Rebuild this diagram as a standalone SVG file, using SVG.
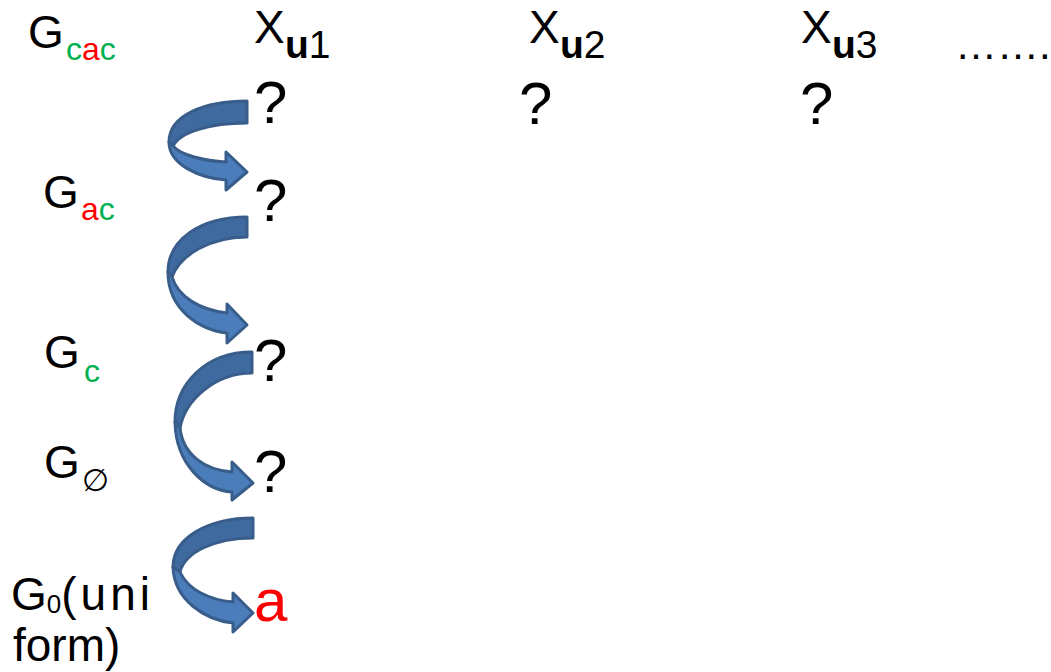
<svg xmlns="http://www.w3.org/2000/svg" width="1051" height="672" viewBox="0 0 1051 672">
<style>
text{font-family:"Liberation Sans",Arial,sans-serif;fill:#000}
.big{font-size:46px}
.sub{font-size:32px}
.q{font-size:60px}
.g{fill:#00B050}
.r{fill:#FF0000}
.back{fill:#3F6AA0;stroke:#385D8A;stroke-width:3;stroke-linejoin:round}
.front{fill:#4A7DBA;stroke:#385D8A;stroke-width:3;stroke-linejoin:round}
.xs{font-size:39px}
</style>
<rect width="1051" height="672" fill="#fff"/>
<g id="connectors">
<g id="arrow1">
<path class="back" d="M247,101 C205,101 169,115 169,142 L173,146 C180,132 210,123 247,123 Z"/>
<path class="front" d="M169,142 C169,165 200,178 226,180 L226,190 L247,172 L226,152 L226,162 C205,161 180,155 173,146 Z"/>
</g>
<g id="arrow2">
<path class="back" d="M247,217 C200,217 168,240 168,272 L172,277 C180,255 210,237 247,237 Z"/>
<path class="front" d="M168,272 C168,310 200,330 227,333 L227,343 L247,325 L227,304 L227,313 C200,310 178,297 172,277 Z"/>
</g>
<g id="arrow3">
<path class="back" d="M252,352 C205,352 175,385 175,422 L180,428 C185,400 215,373 252,373 Z"/>
<path class="front" d="M175,422 C176,465 205,490 232,492 L232,500 L253,483 L232,462 L232,472 C205,470 183,455 180,428 Z"/>
</g>
<g id="arrow4">
<path class="back" d="M253,518 C208,518 173,538 173,567 L180,572 C185,552 215,538 253,538 Z"/>
<path class="front" d="M173,567 C174,600 205,620 233,623 L233,632 L253,613 L233,593 L233,602 C210,600 188,590 180,572 Z"/>
</g>
</g>
<g id="label-gcac"><text class="big" x="28" y="48">G</text><text class="sub" x="66" y="60"><tspan class="g">c</tspan><tspan class="r">a</tspan><tspan class="g">c</tspan></text></g>
<g id="label-gac"><text class="big" x="43" y="208">G</text><text class="sub" x="81" y="220"><tspan class="r">a</tspan><tspan class="g">c</tspan></text></g>
<g id="label-gc"><text class="big" x="44" y="368">G</text><text class="sub g" x="84" y="382">c</text></g>
<g id="label-gempty"><text class="big" x="44" y="478">G</text><text x="82" y="491" style="font-family:'DejaVu Sans',sans-serif;font-size:31px">∅</text></g>
<g id="label-g0"><text class="big" x="11" y="610">G<tspan dy="3" font-size="26">0</tspan><tspan dy="-3" letter-spacing="4">(uni</tspan></text><text class="big" x="13" y="661">form)</text></g>
<g id="col-xu1"><text class="big" x="254" y="43">X</text><text class="xs" x="285" y="58"><tspan font-weight="bold">u</tspan>1</text></g>
<g id="col-xu2"><text class="big" x="529" y="43">X</text><text class="xs" x="560" y="58"><tspan font-weight="bold">u</tspan>2</text></g>
<g id="col-xu3"><text class="big" x="801" y="43">X</text><text class="xs" x="832" y="58"><tspan font-weight="bold">u</tspan>3</text></g>
<g id="dots"><text x="955" y="59" style="font-size:42px">…….</text></g>
<g id="q-1-1"><text class="q" x="254" y="123">?</text></g>
<g id="q-1-2"><text class="q" x="519" y="124">?</text></g>
<g id="q-1-3"><text class="q" x="800" y="124">?</text></g>
<g id="q-2"><text class="q" x="254" y="221">?</text></g>
<g id="q-3"><text class="q" x="254" y="381">?</text></g>
<g id="q-4"><text class="q" x="254" y="492">?</text></g>
<g id="val-a"><text class="q r" x="254" y="621">a</text></g>
</svg>
